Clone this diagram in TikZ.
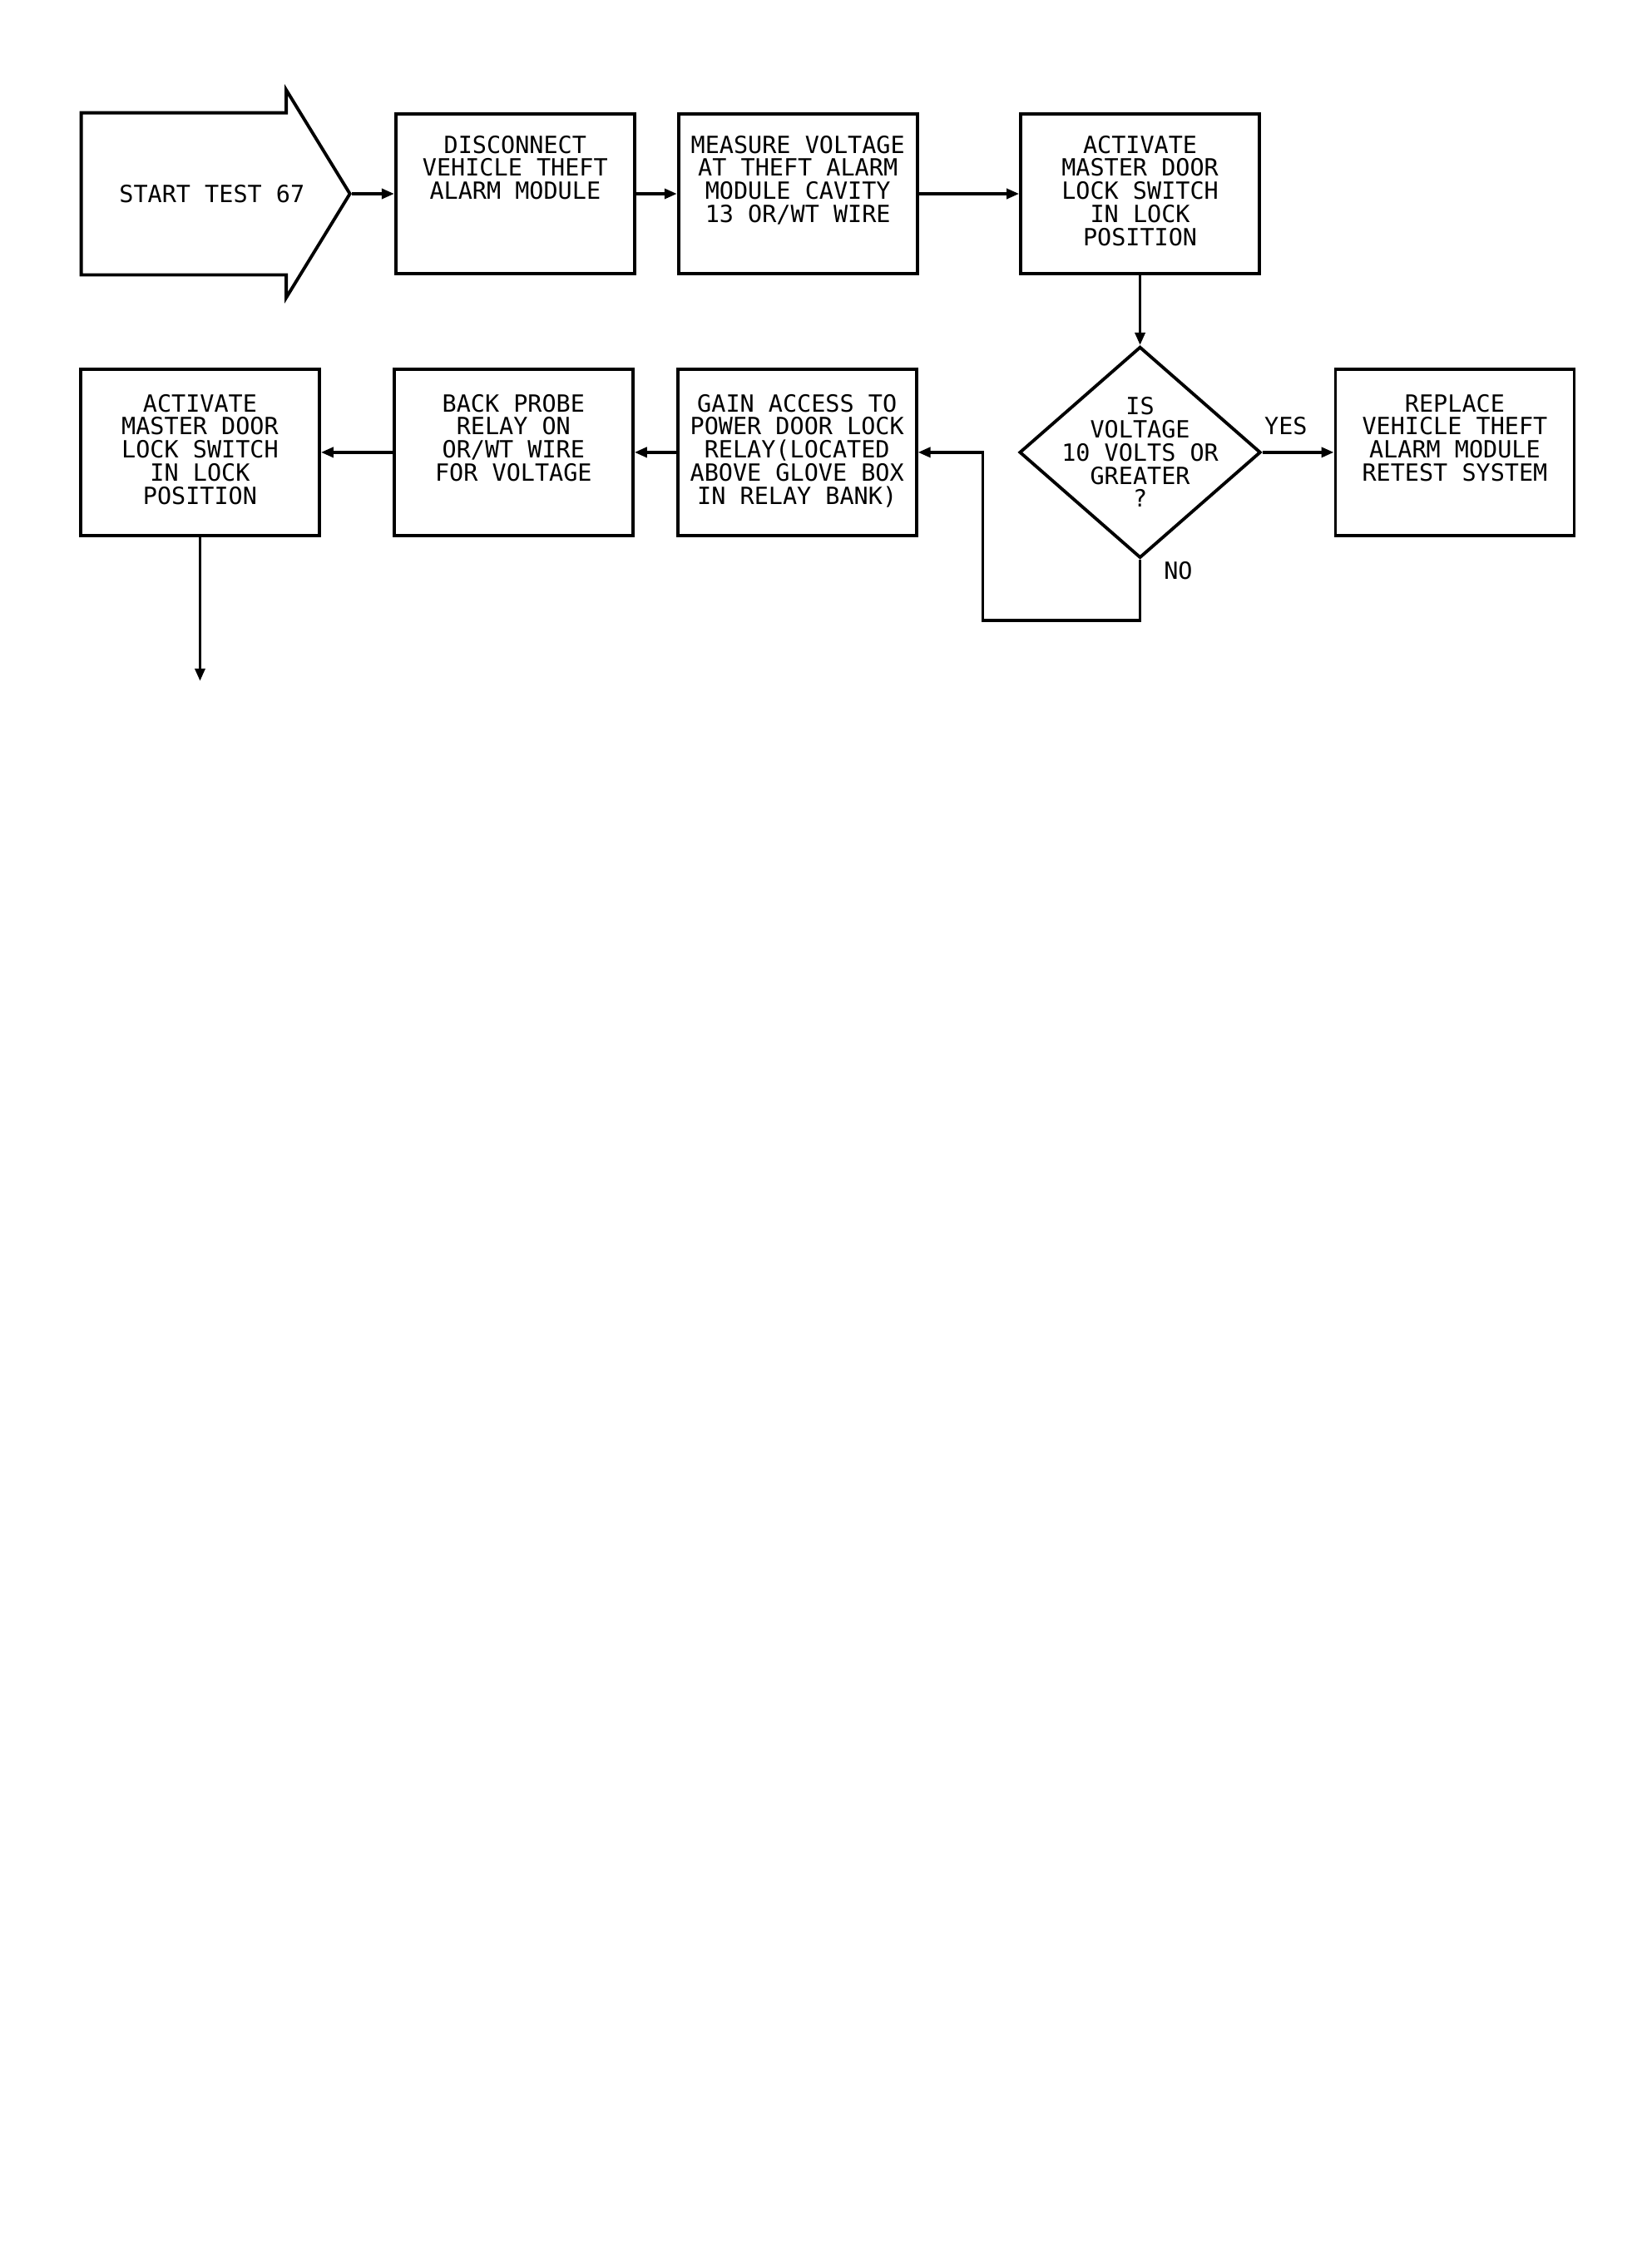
\documentclass[tikz,border=0pt]{standalone}
\usepackage{fontspec}
\newfontfamily\plotfont{DejaVu Sans Mono}
\usepackage{tikz}
\usetikzlibrary{positioning}
\usetikzlibrary{shapes.geometric}
\usetikzlibrary{shapes.arrows}
\usetikzlibrary{arrows.meta}
\newcommand{\boxlines}[1]{\parbox[c][1.40cm][t]{2.75cm}{\centering #1}}
\tikzset{
  every node/.style={font=\plotfont\fontsize{8.1pt}{7.9pt}\selectfont},
  procbox/.style={draw, line width=1.1pt, minimum width=2.87cm, minimum height=1.92cm, inner sep=0pt},
  lowbox/.style={procbox, minimum height=2cm},
  query/.style={draw, diamond, line width=1.1pt, minimum width=2.9cm, minimum height=2.54cm, inner sep=0pt},
  tag/.style={inner sep=0pt},
  flow/.style={-{Triangle[length=0.15cm,width=0.12cm]}, line width=1pt}
}

\begin{document}
\begin{tikzpicture}
        \useasboundingbox (0,0) rectangle (19.8,-27.27);
        % top row
        \node[single arrow, draw, line width=1.1pt, anchor=tail, minimum height=3.23cm, minimum width=2.46cm,
              text height=1.06cm, text depth=0.85cm, single arrow head extend=0.275cm, single arrow tip angle=117,
              inner sep=0pt] (start) at (0.957,-2.33) {};
        \node[tag, right=0.47cm of start.tail] (starttxt) {START TEST 67};
        \node[procbox, right=0.51cm of start.tip] (dis) {\boxlines{DISCONNECT\\VEHICLE THEFT\\ALARM MODULE}};
        \node[procbox, right=0.49cm of dis] (meas) {\boxlines{MEASURE VOLTAGE\\AT THEFT ALARM\\MODULE CAVITY\\13 OR/WT WIRE}};
        \node[procbox, right=1.205cm of meas] (act1) {\boxlines{ACTIVATE\\MASTER DOOR\\LOCK SWITCH\\IN LOCK\\POSITION}};

        % decision and second row
        \node[query, below=0.84cm of act1] (isv) {};
        \node[align=center] (isvtxt) at (isv) {IS\\VOLTAGE\\10 VOLTS OR\\GREATER\\?};
        \node[lowbox, right=0.86cm of isv] (repl) {\boxlines{REPLACE\\VEHICLE THEFT\\ALARM MODULE\\RETEST SYSTEM}};
        \node[lowbox, left=1.20cm of isv] (gain) {\boxlines{GAIN ACCESS TO\\POWER DOOR LOCK\\RELAY(LOCATED\\ABOVE GLOVE BOX\\IN RELAY BANK)}};
        \node[lowbox, left=0.50cm of gain] (probe) {\boxlines{BACK PROBE\\RELAY ON\\OR/WT WIRE\\FOR VOLTAGE}};
        \node[lowbox, left=0.86cm of probe] (act2) {\boxlines{ACTIVATE\\MASTER DOOR\\LOCK SWITCH\\IN LOCK\\POSITION}};
        \node[tag, above right=0.2cm and 0.02cm of isv.east] (yes) {YES};
        \node[tag, below right=0.02cm and 0.28cm of isv.south] (no) {NO};
        \coordinate[below=1.73cm of act2] (next);

        % edges
        \draw[flow] (start.tip) -- (dis);
        \draw[flow] (dis) -- (meas);
        \draw[flow] (meas) -- (act1);
        \draw[flow] (act1) -- (isv);
        \draw[flow] (isv) -- (repl);
        \draw[flow] (isv.south) -- ++(0,-0.73) -| ([xshift=0.78cm]gain.east) -- (gain.east);
        \draw[flow] (gain) -- (probe);
        \draw[flow] (probe) -- (act2);
        \draw[flow] (act2) -- (next);
   \end{tikzpicture}
\end{document}
